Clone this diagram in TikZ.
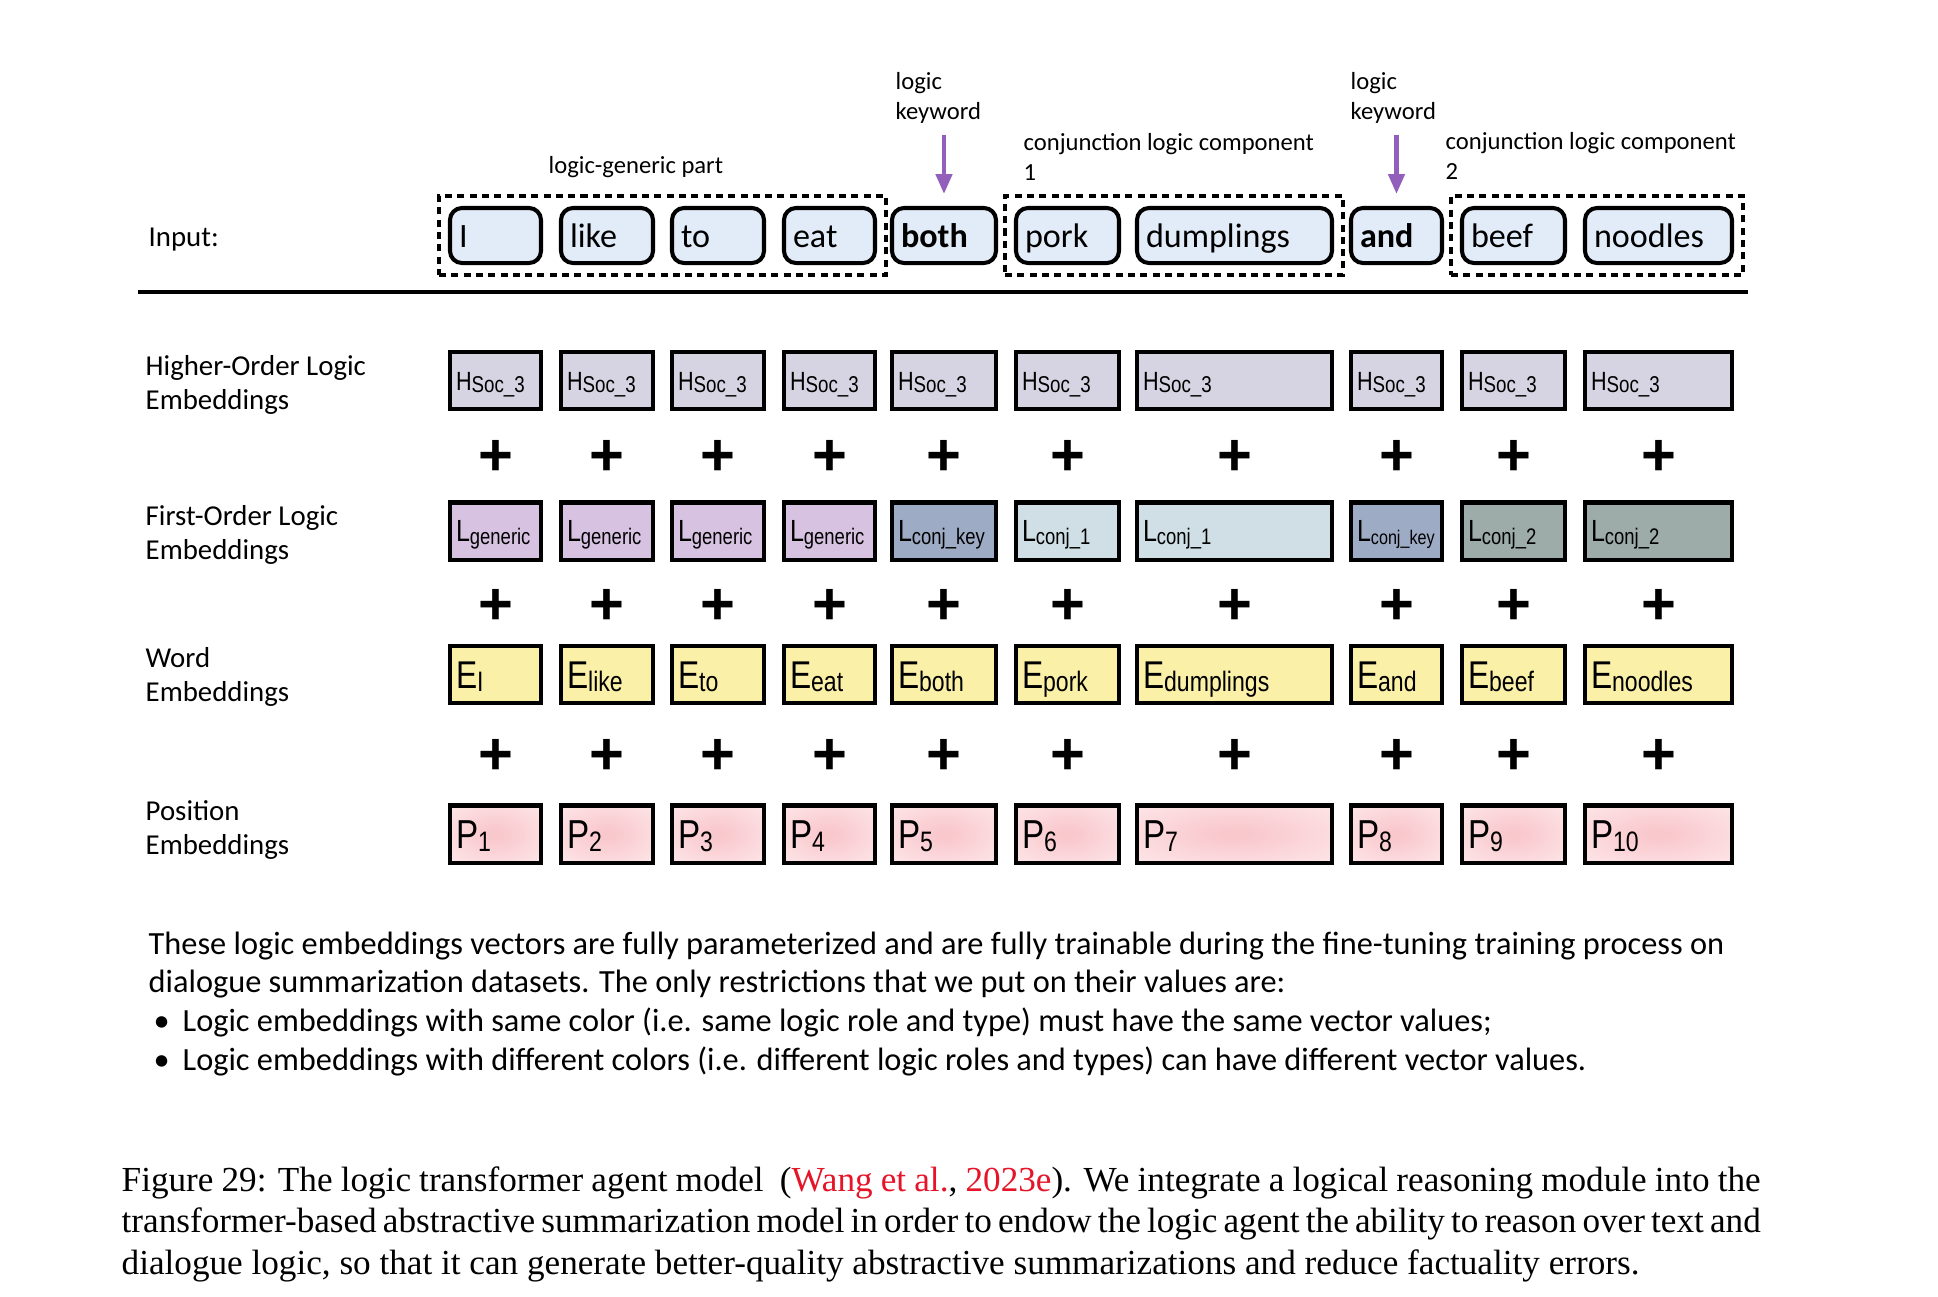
\documentclass[tikz,border=0pt]{standalone}
\usepackage{fontspec}
\setmainfont{Carlito}
\newfontfamily\narrowFont[FakeStretch=0.82]{Liberation Sans}
\newfontfamily\plusFont{Liberation Sans}
\newfontfamily\captionFont{Liberation Serif}
\usetikzlibrary{arrows.meta,positioning,fit}
\definecolor{inFill}{RGB}{226,236,248}
\definecolor{hFill}{RGB}{214,212,226}
\definecolor{lGenFill}{RGB}{216,194,226}
\definecolor{lKeyFill}{RGB}{158,171,197}
\definecolor{lOneFill}{RGB}{207,223,229}
\definecolor{lTwoFill}{RGB}{157,172,169}
\definecolor{eFill}{RGB}{251,240,168}
\definecolor{pCore}{RGB}{249,200,205}
\definecolor{pEdge}{RGB}{255,243,244}
\definecolor{keyPurple}{RGB}{146,95,186}
\definecolor{citeRed}{RGB}{230,20,40}
\pgfdeclareradialshading{pinkGlow}{\pgfpoint{0bp}{0bp}}{color(0bp)=(pCore); color(4bp)=(pCore); color(50bp)=(pEdge)}
\newcommand{\embSub}[2]{\raisebox{-0.15ex}{\fontsize{#1}{#1}\selectfont #2}}
\tikzset{
  embbox/.style={draw=black, line width=1.15pt, rectangle, minimum height=0.57cm, inner xsep=0.06cm, inner ysep=0pt, align=left, text depth=0pt},
  hbox/.style={embbox, fill=hFill, font=\narrowFont\fontsize{7.5}{8}\selectfont, text height=5.4pt},
  lbox/.style={embbox, font=\narrowFont\fontsize{8.7}{9}\selectfont, text height=6.2pt},
  ebox/.style={embbox, fill=eFill, font=\narrowFont\fontsize{11}{12}\selectfont, text height=7.9pt},
  pbox/.style={embbox, shading=pinkGlow, shade, font=\narrowFont\fontsize{11.5}{12}\selectfont, text height=8.2pt},
  inbox/.style={draw=black, line width=1.15pt, rounded corners=1.2mm, fill=inFill, minimum height=0.55cm, inner xsep=0.09cm, inner ysep=0pt, align=left, font=\fontsize{9.7}{11}\selectfont, text height=6.8pt, text depth=0pt},
  grpbox/.style={draw=black, line width=1.1pt, dash pattern=on 2pt off 1.5pt, inner xsep=0.09cm, inner ysep=0.1cm},
  plusmark/.style={font=\plusFont\bfseries\fontsize{17}{17}\selectfont, inner sep=0pt},
  rowlabel/.style={anchor=west, align=left, inner sep=0pt, font=\fontsize{8.2}{9.7}\selectfont},
  note/.style={anchor=north west, align=left, inner sep=0pt, font=\fontsize{7}{8.5}\selectfont},
  keyarrow/.style={-{Triangle[length=2mm,width=1.6mm]}, line width=1.3pt, draw=keyPurple, shorten <=0.11cm}
}
\begin{document}
\begin{tikzpicture}[x=0.01cm, y=-0.01cm]
  \useasboundingbox (0,0) rectangle (1938,1296);
  % token columns
  \foreach \n/\xa/\xb/\word/\inp/\ltag/\lcol/\ls in {
      1/450/541/I/I/generic/lGenFill/6.4,
      2/561/653/like/like/generic/lGenFill/6.4,
      3/672/764/to/to/generic/lGenFill/6.4,
      4/784/875/eat/eat/generic/lGenFill/6.4,
      5/892/996/both/\textbf{both}/conj\_key/lKeyFill/6.4,
      6/1016/1119/pork/pork/conj\_1/lOneFill/6.4,
      7/1137/1332/dumplings/dumplings/conj\_1/lOneFill/6.4,
      8/1351/1442/and/\textbf{and}/conj\_key/lKeyFill/5.6,
      9/1462/1565/beef/beef/conj\_2/lTwoFill/6.4,
      10/1585/1732/noodles/noodles/conj\_2/lTwoFill/6.4}{
    \pgfmathsetmacro\cx{(\xa+\xb)/2}
    \pgfmathsetmacro\bw{(\xb-\xa)*0.01}
    \pgfmathsetmacro\tw{(\xb-\xa)*0.01-0.12}
    \pgfmathsetmacro\iw{(\xb-\xa)*0.01-0.18}
    \node[inbox, minimum width=\bw cm, text width=\iw cm] (in\n) at (\cx,235.5) {\inp};
    \node[hbox, minimum width=\bw cm, text width=\tw cm] (h\n) at (\cx,380.5) {H\embSub{6.5}{Soc\_3}};
    \node[plusmark] (plusA\n) at (\cx,458) {+};
    \node[lbox, fill=\lcol, minimum width=\bw cm, text width=\tw cm] (l\n) at (\cx,531) {L\embSub{\ls}{\ltag}};
    \node[plusmark] (plusB\n) at (\cx,607) {+};
    \node[ebox, minimum width=\bw cm, text width=\tw cm] (e\n) at (\cx,674.5) {E\embSub{8}{\word}};
    \node[plusmark] (plusC\n) at (\cx,757) {+};
    \node[pbox, minimum width=\bw cm, text width=\tw cm] (p\n) at (\cx,834) {P\embSub{8}{\n}};
  }
  % groups of the input
  \node[grpbox, fit=(in1)(in4)] (grpGeneric) {};
  \node[grpbox, fit=(in6)(in7)] (grpConjA) {};
  \node[grpbox, fit=(in9)(in10)] (grpConjB) {};
  \node[note, anchor=west] (genNote) at (548,167) {logic-generic part};
  \node[note] (kwA) at (895,72) {logic\\keyword};
  \node[note] (kwB) at (1350,72) {logic\\keyword};
  \node[note] (conjNoteA) at (1023,133) {conjunction logic component\\1};
  \node[note] (conjNoteB) at (1445,132) {conjunction logic component\\2};
  \draw[keyarrow] (kwA.south -| in5.north) -- (in5.north |- grpGeneric.north);
  \draw[keyarrow] (kwB.south -| in8.north) -- (in8.north |- grpGeneric.north);
  \draw[line width=1.2pt] (138,292) -- (1748,292);
  % row labels
  \node[rowlabel] (inLabel) at (148,240) {Input:};
  \node[rowlabel] (hLabel) at (145,385) {Higher-Order Logic\\Embeddings};
  \node[rowlabel] (lLabel) at (145,535) {First-Order Logic\\Embeddings};
  \node[rowlabel] (eLabel) at (145,677) {Word\\Embeddings};
  \node[rowlabel] (pLabel) at (145,830) {Position\\Embeddings};
  % notes below
  \node[anchor=north west, align=left, inner sep=0pt, font=\fontsize{9.2}{11}\selectfont] (restrictNote) at (148,931)
    {These logic embeddings vectors are fully parameterized and are fully trainable during the fine-tuning training process on\\
     dialogue summarization datasets. The only restrictions that we put on their values are:\\
     \hspace*{0.05cm}\makebox[0.29cm][l]{\textbullet}Logic embeddings with same color (i.e. same logic role and type) must have the same vector values;\\
     \hspace*{0.05cm}\makebox[0.29cm][l]{\textbullet}Logic embeddings with different colors (i.e. different logic roles and types) can have different vector values.};
  \node[anchor=north west, text width=16.38cm, align=justify, inner sep=0pt, font=\captionFont\fontsize{10}{11.8}\selectfont] (figCaption) at (121,1166)
    {\hyphenpenalty=10000 Figure 29: The logic transformer agent model\ \ (\textcolor{citeRed}{Wang et al.}, \textcolor{citeRed}{2023e}). We integrate a logical reasoning module into the\linebreak
     transformer-based abstractive summarization model in order to endow the logic agent the ability to reason over text and\linebreak
     dialogue logic, so that it can generate better-quality abstractive summarizations and reduce factuality errors.};
\end{tikzpicture}
\end{document}
